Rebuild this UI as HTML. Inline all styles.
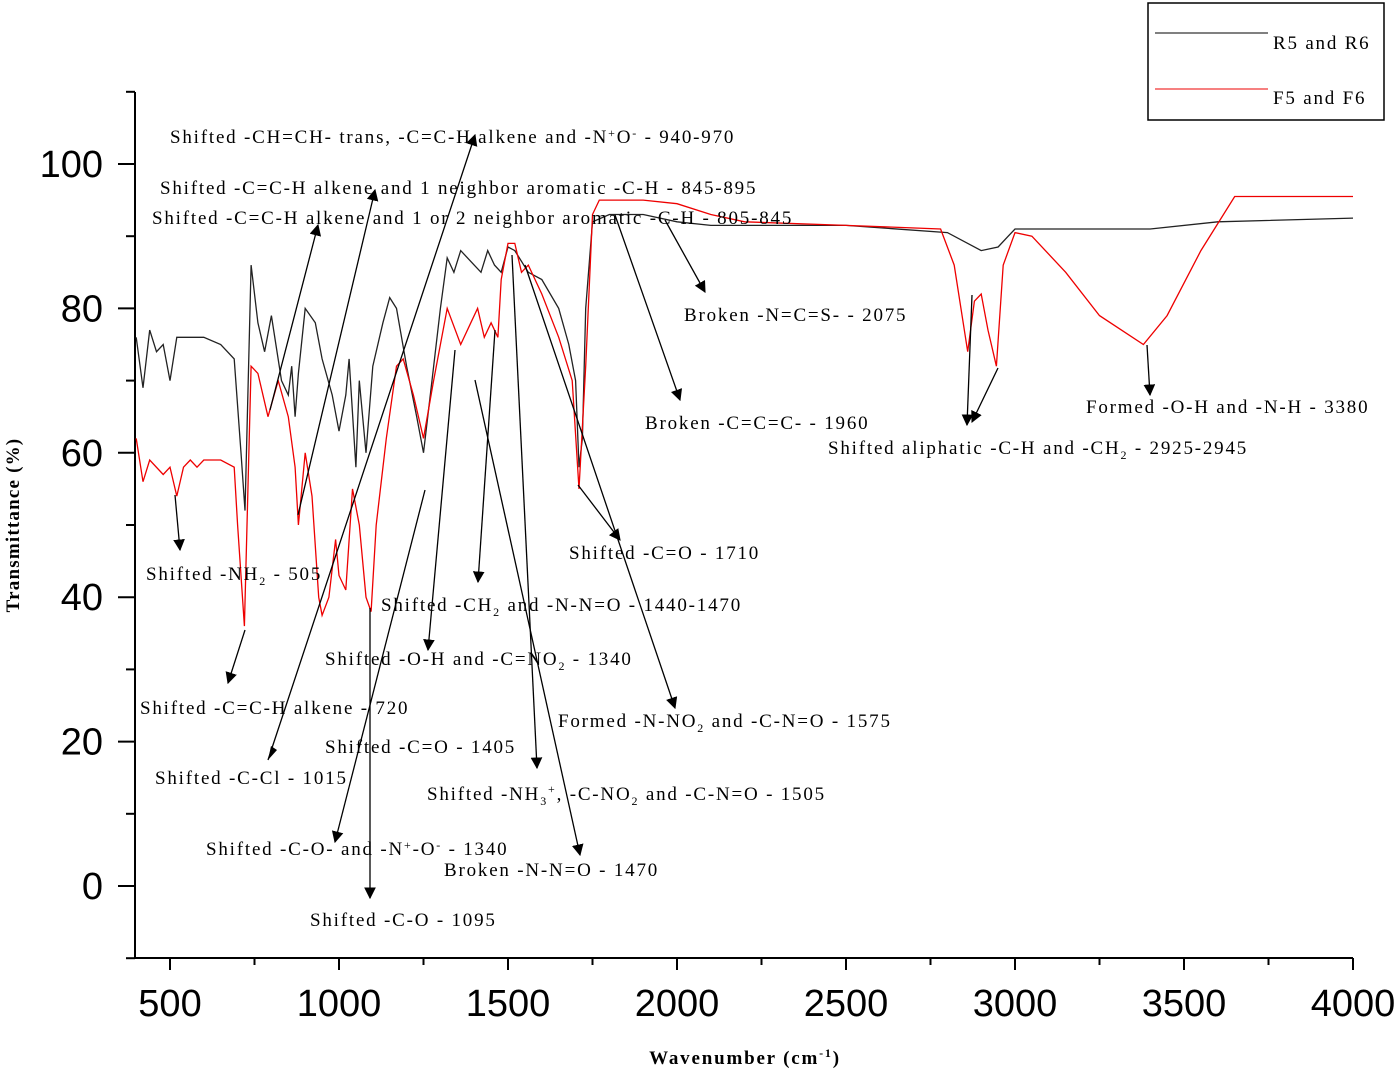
<!DOCTYPE html>
<html><head><meta charset="utf-8"><style>
html,body{margin:0;padding:0;background:#fff;}
svg{display:block;}
.ann{font-family:"Liberation Serif",serif;font-size:19px;letter-spacing:1.8px;fill:#000;}
.tick{font-family:"Liberation Sans",sans-serif;font-size:38px;fill:#000;}
</style></head><body>
<svg id="chart" width="1400" height="1072" viewBox="0 0 1400 1072" xmlns="http://www.w3.org/2000/svg">
<defs><marker id="ah" viewBox="0 0 10 10" refX="9" refY="5" markerWidth="9" markerHeight="9" orient="auto-start-reverse"><path d="M0,0 L10,5 L0,10 z" fill="#000"/></marker></defs>
<g id="axes"></g>
<g id="series"></g>
<g id="ann"></g>
<text transform="translate(19,525) rotate(-90)" text-anchor="middle" style="font-family:'Liberation Serif',serif;font-weight:bold;font-size:19px;letter-spacing:1.2px">Transmittance (%)</text>
<text x="745" y="1064" text-anchor="middle" style="font-family:'Liberation Serif',serif;font-weight:bold;font-size:19px;letter-spacing:1.8px">Wavenumber (cm<tspan dy="-7" font-size="12">-1</tspan><tspan dy="7">)</tspan></text>
<g>
<rect x="1148" y="3" width="236" height="117" fill="#fff" stroke="#000" stroke-width="1.5"/>
<line x1="1155" y1="33" x2="1268" y2="33" stroke="#000"/>
<text class="ann" x="1273" y="49">R5 and R6</text>
<line x1="1155" y1="89" x2="1268" y2="89" stroke="#e00"/>
<text class="ann" x="1273" y="104">F5 and F6</text>
</g>
</svg>
<script>
const xTicks=[500,1000,1500,2000,2500,3000,3500,4000];
const yTicks=[0,20,40,60,80,100];
const blackX=[400,420,440,460,480,500,520,560,600,650,690,710,722,740,760,780,800,830,850,860,870,880,900,930,950,980,1000,1020,1030,1050,1060,1080,1100,1130,1150,1170,1200,1230,1250,1270,1300,1320,1340,1360,1400,1420,1440,1460,1480,1500,1520,1560,1600,1650,1680,1700,1710,1720,1730,1750,1800,1900,2000,2100,2500,2800,2900,2950,2980,3000,3400,3600,4000];
const blackY=[76,69,77,74,75,70,76,76,76,75,73,60,52,86,78,74,79,70,68,72,65,71,80,78,73,68,63,68,73,58,70,60,72,78,81.5,80,72,65,60,68,80,87,85,88,86,85,88,86,85,88.5,88,85,84,80,75,70,58,62,80,92,93,93,92,91.5,91.5,90.5,88,88.5,90,91,91,92,92.5];
const redX=[400,420,440,480,500,520,540,560,580,600,650,690,700,720,740,760,790,820,850,870,880,890,900,920,940,950,970,990,1000,1020,1040,1060,1080,1095,1110,1140,1170,1190,1220,1250,1280,1320,1360,1390,1410,1430,1450,1470,1480,1500,1520,1540,1560,1600,1650,1690,1710,1730,1750,1770,1900,2000,2100,2200,2500,2780,2820,2860,2880,2900,2920,2945,2965,3000,3050,3150,3250,3380,3450,3550,3650,4000];
const redY=[62,56,59,57,58,54,58,59,58,59,59,58,50,36,72,71,65,70,65,58,50,55,60,54,40,37.5,40,48,43,41,55,50,40,38,50,62,72,73,68,62,70,80,75,78,80,76,78,76,84,89,89,85,86,82,76,70,55,72,93,95,95,94.5,93,92,91.5,91,86,74,81,82,77,72,86,90.5,90,85,79,75,79,88,95.5,95.5];
const X=v=>170+(v-500)*(1353-170)/3500;
const Y=v=>886-v*7.22;
const NS="http://www.w3.org/2000/svg";
function mk(tag,attrs,parent){const e=document.createElementNS(NS,tag);for(const k in attrs)e.setAttribute(k,attrs[k]);parent.appendChild(e);return e;}
const ax=document.getElementById('axes');
let e;
e=mk('line',{x1:135,y1:92,x2:135,y2:958,stroke:'#000','stroke-width':2},ax);


e=mk('line',{x1:135,y1:958,x2:1353,y2:958,stroke:'#000','stroke-width':2},ax);


for(let v=-10;v<=110;v+=10){const maj=v%20===0;
e=mk('line',{x1:maj?118:126,y1:Y(v),x2:135,y2:Y(v),stroke:'#000','stroke-width':2},ax);

}
for(let v=500;v<=4000;v+=250){const maj=v%500===0;
e=mk('line',{x1:X(v),y1:958,x2:X(v),y2:maj?970:965,stroke:'#000','stroke-width':2},ax);

}
xTicks.forEach(t=>{e=mk('text',{x:X(t),y:1016,'text-anchor':'middle',class:'tick'},ax);e.textContent=t;

});
yTicks.forEach(t=>{e=mk('text',{x:103,y:Y(t)+13,'text-anchor':'end',class:'tick'},ax);e.textContent=t;

});
const sg=document.getElementById('series');
function line(xs,ys,col,name){const d=xs.map((x,i)=>(i?'L':'M')+X(x).toFixed(1)+','+Y(ys[i]).toFixed(1)).join(' ');
const p=mk('path',{d:d,fill:'none',stroke:col,'stroke-width':1.3},sg);

}
line(blackX,blackY,'#222','series-r5-r6');
line(redX,redY,'#e00','series-f5-f6');
const ag=document.getElementById('ann');
const arrows=[[298,515,375,190],[270,410,318,225],[268,760,475,135],[175,495,180,550],[245,630,228,683],[370,608,370,898],[425,490,335,842],[455,350,428,650],[495,330,478,582],[475,380,580,855],[512,255,537,768],[525,265,675,708],[578,485,620,540],[615,215,680,400],[665,220,705,292],[972,295,967,425],[998,368,972,422],[1147,345,1150,395]];
arrows.forEach(a=>{e=mk('line',{x1:a[0],y1:a[1],x2:a[2],y2:a[3],stroke:'#000','stroke-width':1.3,'marker-end':'url(#ah)'},ag);

});
e=mk('path',{d:'M268,760 l3,-14 l6,4 z',fill:'#000'},ag);


const labels=[
[170,137,'Shifted -CH=CH- trans, -C=C-H alkene and -N<tspan dy="-6" font-size="12">+</tspan><tspan dy="6">O</tspan><tspan dy="-6" font-size="12">-</tspan><tspan dy="6"> - 940-970</tspan>'],
[160,188,'Shifted -C=C-H alkene and 1 neighbor aromatic -C-H - 845-895'],
[152,218,'Shifted -C=C-H alkene and 1 or 2 neighbor aromatic -C-H - 805-845'],
[684,315,'Broken -N=C=S- - 2075'],
[645,423,'Broken -C=C=C- - 1960'],
[1086,407,'Formed -O-H and -N-H - 3380'],
[828,448,'Shifted aliphatic -C-H and -CH<tspan dy="5" font-size="12">2</tspan><tspan dy="-5"> - 2925-2945</tspan>'],
[569,553,'Shifted -C=O - 1710'],
[146,574,'Shifted -NH<tspan dy="5" font-size="12">2</tspan><tspan dy="-5"> - 505</tspan>'],
[381,605,'Shifted -CH<tspan dy="5" font-size="12">2</tspan><tspan dy="-5"> and -N-N=O - 1440-1470</tspan>'],
[325,659,'Shifted -O-H and -C=NO<tspan dy="5" font-size="12">2</tspan><tspan dy="-5"> - 1340</tspan>'],
[140,708,'Shifted -C=C-H alkene - 720'],
[558,721,'Formed -N-NO<tspan dy="5" font-size="12">2</tspan><tspan dy="-5"> and -C-N=O - 1575</tspan>'],
[325,747,'Shifted -C=O - 1405'],
[155,778,'Shifted -C-Cl - 1015'],
[427,794,'Shifted -NH<tspan dy="5" font-size="12">3</tspan><tspan dy="-12" font-size="12">+</tspan><tspan dy="7">, -C-NO</tspan><tspan dy="5" font-size="12">2</tspan><tspan dy="-5"> and -C-N=O - 1505</tspan>'],
[206,849,'Shifted -C-O- and -N<tspan dy="-6" font-size="12">+</tspan><tspan dy="6">-O</tspan><tspan dy="-6" font-size="12">-</tspan><tspan dy="6"> - 1340</tspan>'],
[444,870,'Broken -N-N=O - 1470'],
[310,920,'Shifted -C-O - 1095']];
labels.forEach(l=>{e=mk('text',{x:l[0],y:l[1]+6,class:'ann'},ag);e.innerHTML=l[2];

});
</script>
</body></html>
